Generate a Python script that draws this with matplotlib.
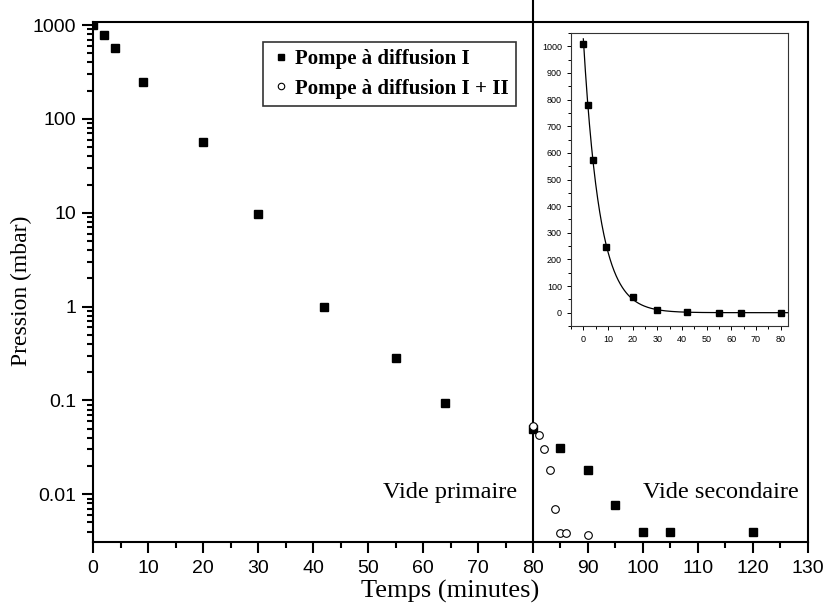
import numpy as np
import matplotlib.pyplot as plt
from matplotlib.ticker import FixedLocator, MultipleLocator, LogLocator, NullFormatter

# Pompe à diffusion I (carrés pleins)
t_pompe1 = [0, 2, 4, 9, 20, 30, 42, 55, 64, 80, 85, 90, 95, 100, 105, 120]
p_pompe1 = [1010, 780, 575, 245, 57, 9.8, 1.0, 0.28, 0.093, 0.05,
            0.031, 0.018, 0.0076, 0.0040, 0.0040, 0.0040]

# Pompe à diffusion I + II (cercles)
t_pompe12 = [80, 81, 82, 83, 84, 85, 86, 90]
p_pompe12 = [0.053, 0.043, 0.030, 0.018, 0.0069, 0.0039, 0.0039, 0.0037]

# Encart : échelle linéaire, 0-80 min
t_encart = [0, 2, 4, 9, 20, 30, 42, 55, 64, 80]
p_encart = [1010, 780, 575, 245, 57, 9.8, 1.0, 0.28, 0.093, 0.05]

serif = ['Liberation Serif', 'DejaVu Serif']
sans = ['Liberation Sans', 'DejaVu Sans']

fig = plt.figure(figsize=(8.27, 6.08), dpi=100)
ax = fig.add_axes([0.1125, 0.1086, 0.8645, 0.8552])

ax.plot(t_pompe1, p_pompe1, 's', color='black', ms=5.3, ls='none',
        label='Pompe à diffusion I', zorder=3)
ax.plot(t_pompe12, p_pompe12, 'o', mfc='white', mec='black', mew=0.8, ms=5.5,
        ls='none', label='Pompe à diffusion I + II', zorder=4)

ax.set_yscale('log')
ax.set_xlim(0, 130)
ax.set_ylim(0.0031, 1080)
ax.xaxis.set_major_locator(MultipleLocator(10))
ax.xaxis.set_minor_locator(MultipleLocator(5))
ax.yaxis.set_major_locator(FixedLocator([0.01, 0.1, 1, 10, 100, 1000]))
ax.yaxis.set_minor_locator(LogLocator(base=10, subs=np.arange(2, 10)))
ax.yaxis.set_minor_formatter(NullFormatter())
ax.set_yticklabels(['0.01', '0.1', '1', '10', '100', '1000'])
ax.tick_params(which='both', direction='out', top=False, right=False, width=1.5)
ax.tick_params(which='major', length=8, labelsize=14)
ax.tick_params(axis='x', which='major', pad=5)
ax.tick_params(axis='y', which='major', pad=4)
ax.tick_params(which='minor', length=4)
for lab in ax.get_xticklabels() + ax.get_yticklabels():
    lab.set_family(sans)
for sp in ax.spines.values():
    sp.set_linewidth(1.5)

ax.set_xlabel('Temps (minutes)', family=serif, fontsize=19, labelpad=2)
ax.set_ylabel('Pression (mbar)', family=serif, fontsize=17)
ax.yaxis.set_label_coords(-0.085, 0.483)

# séparation vide primaire / secondaire
ax.plot([80, 80], [0.0031, 1900], color='black', lw=1.5, clip_on=False, zorder=2)
ax.text(52.7, 0.0105, 'Vide primaire', family=serif, fontsize=17.5, va='center')
ax.text(100, 0.0105, 'Vide secondaire', family=serif, fontsize=17.5, va='center')

leg = ax.legend(loc='upper left', bbox_to_anchor=(0.318, 0.931),
                bbox_transform=fig.transFigure, frameon=True, fancybox=False,
                prop={'family': serif, 'weight': 'bold', 'size': 15},
                handletextpad=0.2, handlelength=1.0, borderpad=0.35,
                labelspacing=0.45, borderaxespad=0, markerscale=0.85)
leg.get_frame().set_edgecolor('black')
leg.get_frame().set_linewidth(1.2)

# encart linéaire
ins = fig.add_axes([571 / 827, 1 - 326 / 608, 217 / 827, 293 / 608])
tfit = np.array(t_encart, dtype=float)
pfit = np.array(p_encart, dtype=float)
coef = np.polyfit(tfit, np.log(pfit), 1, w=np.sqrt(pfit))
tt = np.linspace(0, 83, 300)
ins.plot(tt, np.exp(np.polyval(coef, tt)), color='black', lw=0.9)
ins.plot(t_encart, p_encart, 's', color='black', ms=5, ls='none')
ins.set_xlim(-5, 83)
ins.set_ylim(-50, 1050)
ins.xaxis.set_major_locator(MultipleLocator(10))
ins.xaxis.set_minor_locator(MultipleLocator(5))
ins.yaxis.set_major_locator(MultipleLocator(100))
ins.yaxis.set_minor_locator(MultipleLocator(50))
ins.tick_params(which='both', direction='out', labelsize=6.5, width=0.7)
ins.tick_params(which='major', length=3)
ins.tick_params(which='minor', length=2)
for lab in ins.get_xticklabels() + ins.get_yticklabels():
    lab.set_family(sans)
for sp in ins.spines.values():
    sp.set_linewidth(0.8)
    sp.set_color('#333333')

fig.savefig('out.png', dpi=100)
